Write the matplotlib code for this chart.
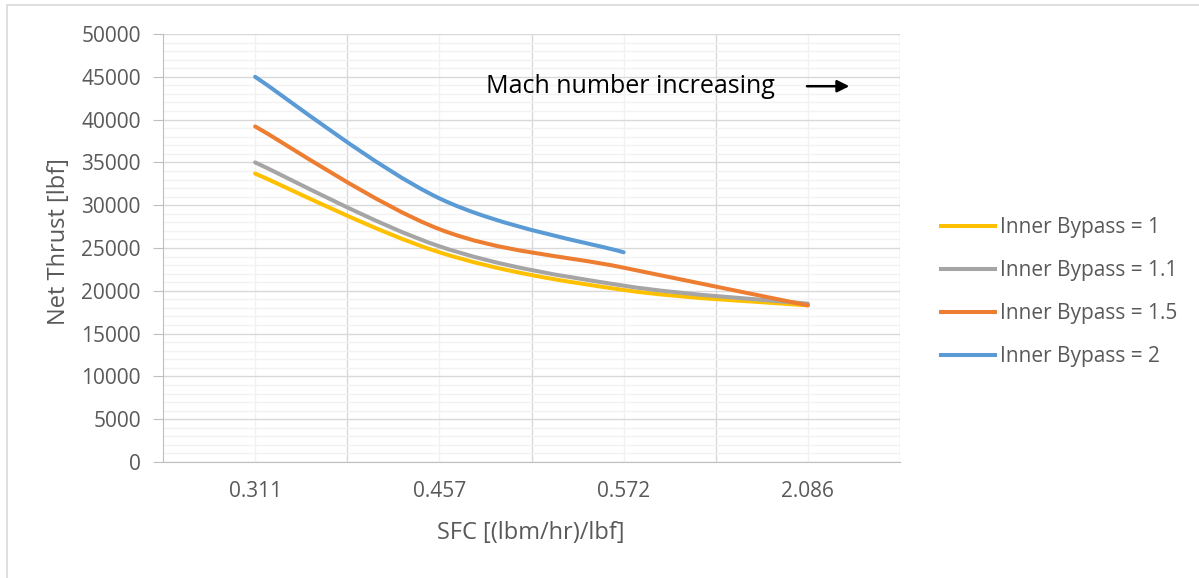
import matplotlib
matplotlib.use("Agg")
import matplotlib.pyplot as plt
from matplotlib.path import Path
from matplotlib.patches import PathPatch, Rectangle
from matplotlib.lines import Line2D
import numpy as np

plt.rcParams['font.family'] = ['Open Sans', 'DejaVu Sans']

# data
sfc_labels = ["0.311", "0.457", "0.572", "2.086"]
series_names = ["Inner Bypass = 1", "Inner Bypass = 1.1",
                "Inner Bypass = 1.5", "Inner Bypass = 2"]
thrust_bp1 = [33700, 24500, 20100, 18300]
thrust_bp11 = [35000, 25200, 20600, 18500]
thrust_bp15 = [39200, 27200, 22700, 18300]
thrust_bp2 = [45000, 30800, 24500]
colors = ["#FFC000", "#A5A5A5", "#ED7D31", "#5B9BD5"]


def smooth_path(xs, ys):
    # excel-like smoothed line: cubic bezier through the points
    p = np.column_stack([xs, ys]).astype(float)
    n = len(p)
    verts = [p[0]]
    codes = [Path.MOVETO]
    for i in range(n - 1):
        p0 = p[i - 1] if i > 0 else p[i]
        p3 = p[i + 2] if i + 2 < n else p[i + 1]
        c1 = p[i] + (p[i + 1] - p0) / 6.0
        c2 = p[i + 1] - (p3 - p[i]) / 6.0
        verts += [c1, c2, p[i + 1]]
        codes += [Path.CURVE4] * 3
    return Path(verts, codes)


fig = plt.figure(figsize=(11.99, 5.78), dpi=100)
ax = fig.add_axes([163 / 1199, 1 - 462 / 578, 737 / 1199, 428 / 578])

all_series = [thrust_bp1, thrust_bp11, thrust_bp15, thrust_bp2]
for vals, c in zip(all_series, colors):
    x = np.arange(len(vals))
    ax.add_patch(PathPatch(smooth_path(x, vals), facecolor='none',
                           edgecolor=c, lw=2.9, capstyle='round', zorder=3))

ax.set_xlim(-0.5, len(sfc_labels) - 0.5)
ax.set_ylim(0, 50000)
ax.set_yticks(np.arange(0, 50001, 5000))
ax.set_yticks(np.arange(0, 50001, 1000), minor=True)
ax.set_xticks(np.arange(len(sfc_labels)))
ax.set_xticklabels(sfc_labels)
ax.set_xticks(np.arange(len(sfc_labels)) + 0.5, minor=True)

# grid: major vertical lines fall between categories
ax.grid(which='minor', axis='y', color='#F2F2F2', lw=1.0, zorder=0)
ax.grid(which='major', axis='y', color='#D9D9D9', lw=1.0, zorder=0)
ax.grid(which='major', axis='x', color='#F2F2F2', lw=1.0, zorder=0)
ax.grid(which='minor', axis='x', color='#D9D9D9', lw=1.0, zorder=0)
ax.set_axisbelow(True)

for s in ['top', 'right']:
    ax.spines[s].set_visible(False)
ax.spines['left'].set_color('#BFBFBF')
ax.spines['bottom'].set_color('#BFBFBF')
ax.tick_params(axis='y', which='major', length=7, color='#BFBFBF',
               labelsize=15, labelcolor='#595959', pad=9)
ax.tick_params(axis='y', which='minor', length=0)
ax.tick_params(axis='x', which='both', length=0, labelsize=15,
               labelcolor='#595959', pad=14)

fig.text(59 / 1199, 1 - 242 / 578, "Net Thrust [lbf]", rotation=90,
         fontsize=17, color='#595959', ha='center', va='center')
fig.text(531 / 1199, 1 - 533 / 578, "SFC [(lbm/hr)/lbf]",
         fontsize=17, color='#595959', ha='center', va='center')

ax.text(0.438, 0.878, "Mach number increasing", transform=ax.transAxes,
        fontsize=18, color='black', va='center', ha='left')
ax.annotate('', xy=(0.935, 0.878), xytext=(0.870, 0.878),
            xycoords='axes fraction', textcoords='axes fraction',
            arrowprops=dict(arrowstyle='-|>', color='black', lw=1.8,
                            mutation_scale=18))

handles = [Line2D([], [], color=c, lw=2.9) for c in colors]
fig.legend(handles, series_names, loc='center left',
           bbox_to_anchor=(941 / 1199, 1 - 292 / 578), frameon=False,
           fontsize=15, labelcolor='#595959', handlelength=2.6,
           handletextpad=0.25, labelspacing=1.05, borderpad=0,
           borderaxespad=0)

fig.patches.append(Rectangle((7 / 1199, -0.1), 1.2, 1.1 - 5 / 578,
                             transform=fig.transFigure, fill=False,
                             edgecolor='#D9D9D9', lw=1.2))

fig.savefig("out.png", dpi=100)
